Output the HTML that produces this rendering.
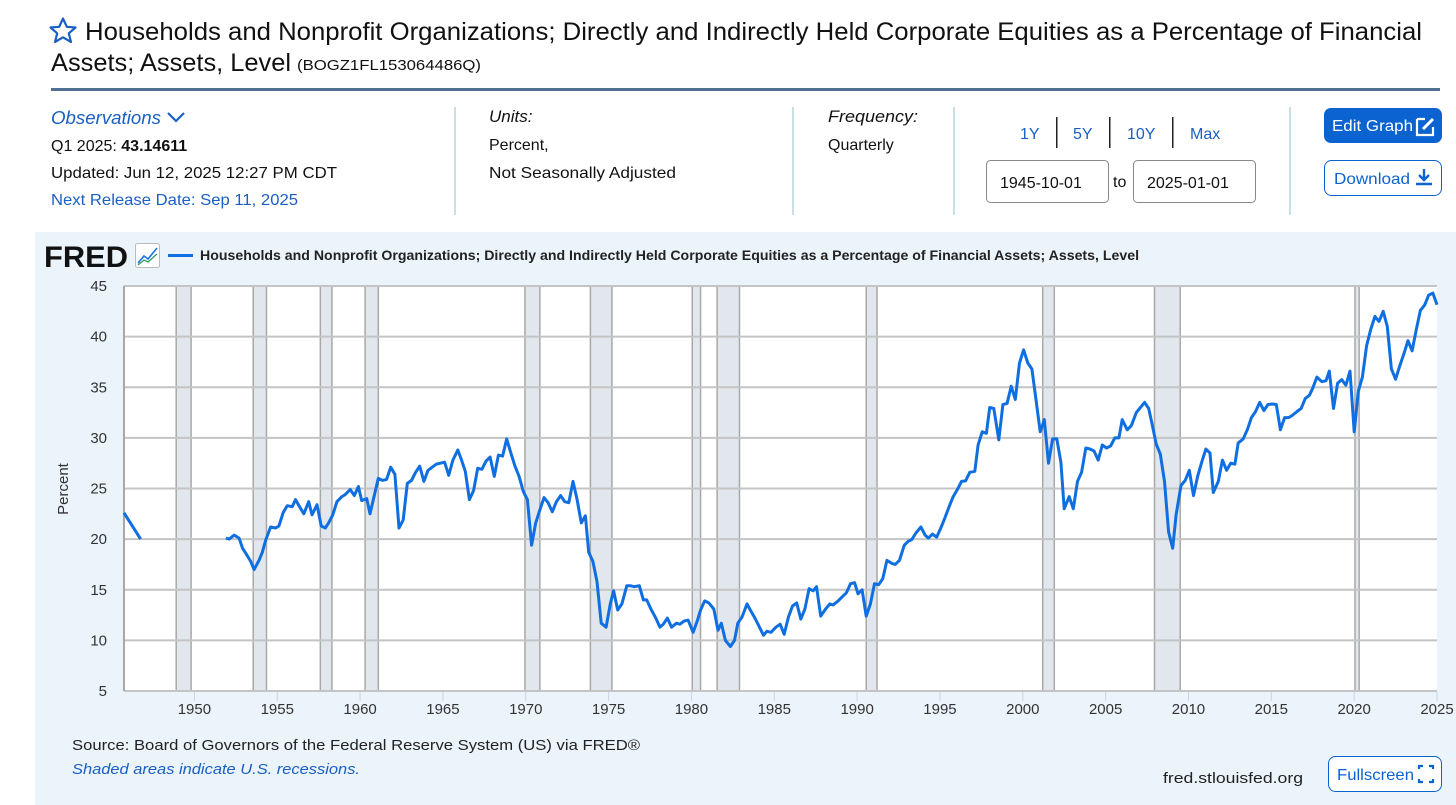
<!DOCTYPE html>
<html><head><meta charset="utf-8"><style>
html,body{margin:0;padding:0;background:#fff;width:1456px;height:805px;overflow:hidden}
svg{display:block;font-family:"Liberation Sans",sans-serif}
</style></head><body>
<svg id="page" width="1456" height="805" viewBox="0 0 1456 805" xmlns="http://www.w3.org/2000/svg">
<g>
<path d="M63,18.5 L66.8,26.8 L75.5,27.5 L68.8,33.3 L71,42 L63,37.3 L55,42 L57.2,33.3 L50.5,27.5 L59.2,26.8 Z" fill="none" stroke="#1a5fc4" stroke-width="2.2" stroke-linejoin="round"/>
<text x="85" y="40" font-size="25" fill="#111" textLength="1337" lengthAdjust="spacingAndGlyphs">Households and Nonprofit Organizations; Directly and Indirectly Held Corporate Equities as a Percentage of Financial</text>
<text x="51" y="71" font-size="25" fill="#111" textLength="240" lengthAdjust="spacingAndGlyphs">Assets; Assets, Level</text>
<text x="297" y="70" font-size="15" fill="#111" textLength="184" lengthAdjust="spacingAndGlyphs">(BOGZ1FL153064486Q)</text>
<rect x="51" y="88" width="1389" height="3" fill="#4f6f93"/>
<text x="51" y="124" font-size="18" font-style="italic" fill="#1a5fc4" textLength="110" lengthAdjust="spacingAndGlyphs">Observations</text>
<path d="M168,113 L176,121 L184,113" fill="none" stroke="#1a5fc4" stroke-width="2.2"/>
<text x="51" y="151" font-size="16" fill="#111">Q1 2025: <tspan font-weight="bold">43.14611</tspan></text>
<text x="51" y="178" font-size="16" fill="#111" textLength="286" lengthAdjust="spacingAndGlyphs">Updated: Jun 12, 2025 12:27 PM CDT</text>
<text x="51" y="205" font-size="16" fill="#1a5fc4" textLength="247" lengthAdjust="spacingAndGlyphs">Next Release Date: Sep 11, 2025</text>
<rect x="454" y="107" width="2" height="108" fill="#c8dfe6"/>
<rect x="792" y="107" width="2" height="108" fill="#c8dfe6"/>
<rect x="953" y="107" width="2" height="108" fill="#c8dfe6"/>
<rect x="1289" y="107" width="2" height="108" fill="#c8dfe6"/>
<text x="489" y="122" font-size="17" font-style="italic" fill="#111">Units:</text>
<text x="489" y="150" font-size="16" fill="#111">Percent,</text>
<text x="489" y="178" font-size="16" fill="#111" textLength="187" lengthAdjust="spacingAndGlyphs">Not Seasonally Adjusted</text>
<text x="828" y="122" font-size="17" font-style="italic" fill="#111" textLength="90" lengthAdjust="spacingAndGlyphs">Frequency:</text>
<text x="828" y="150" font-size="16" fill="#111">Quarterly</text>
<text x="1020" y="139" font-size="16" fill="#1a5fc4">1Y</text>
<rect x="1056" y="117" width="1.5" height="31" fill="#222"/>
<text x="1073" y="139" font-size="16" fill="#1a5fc4">5Y</text>
<rect x="1109" y="117" width="1.5" height="31" fill="#222"/>
<text x="1127" y="139" font-size="16" fill="#1a5fc4">10Y</text>
<rect x="1172" y="117" width="1.5" height="31" fill="#222"/>
<text x="1190" y="139" font-size="16" fill="#1a5fc4">Max</text>
<rect x="986.5" y="160.5" width="122" height="42" rx="4" fill="#fff" stroke="#888"/>
<text x="1000" y="188" font-size="16" fill="#111">1945-10-01</text>
<text x="1113" y="187" font-size="16" fill="#111">to</text>
<rect x="1133.5" y="160.5" width="122" height="42" rx="4" fill="#fff" stroke="#888"/>
<text x="1147" y="188" font-size="16" fill="#111">2025-01-01</text>
<g>
<rect x="1324" y="108" width="118" height="35" rx="7" fill="#0b63d1"/>
<text x="1332" y="131" font-size="16" fill="#fff" textLength="81" lengthAdjust="spacingAndGlyphs">Edit Graph</text>
<path d="M1417,119 h8 M1417,119 v16 h16 v-8" fill="none" stroke="#fff" stroke-width="2.2"/>
<path d="M1423,129 l10,-10" stroke="#fff" stroke-width="3"/>
</g>
<g>
<rect x="1324.5" y="160.5" width="117" height="35" rx="7" fill="#fff" stroke="#0b63d1"/>
<text x="1334" y="184" font-size="16" fill="#0b63d1" textLength="76" lengthAdjust="spacingAndGlyphs">Download</text>
<path d="M1424,169 v10 M1419,175 l5,5 l5,-5 M1416,184 h16" fill="none" stroke="#0b63d1" stroke-width="2.4"/>
</g>
</g>
<rect x="35" y="232" width="1421" height="573" fill="#ebf3fb"/>
<text x="44" y="267" font-size="30" font-weight="bold" fill="#111" textLength="84" lengthAdjust="spacingAndGlyphs">FRED</text>
<g>
<rect x="135.5" y="243.5" width="24" height="24" rx="2" fill="#fff" stroke="#bbb"/>
<path d="M138,263 l6,-7 l4,3 l9,-11" fill="none" stroke="#1a73e8" stroke-width="1.6"/>
<path d="M138,265 l6,-5 l4,2 l9,-8" fill="none" stroke="#2a9a5a" stroke-width="1.2"/>
</g>
<rect x="168" y="254" width="25" height="3" fill="#0f6fe0"/>
<text x="200" y="260" font-size="13.5" font-weight="bold" fill="#222" textLength="939" lengthAdjust="spacingAndGlyphs">Households and Nonprofit Organizations; Directly and Indirectly Held Corporate Equities as a Percentage of Financial Assets; Assets, Level</text>
<rect x="124" y="286" width="1313" height="405" fill="#fff"/>
<g id="recessions"></g>
<g id="grid"></g>
<g id="yticks"></g>
<g id="xticks"></g>
<text transform="translate(68,489) rotate(-90)" text-anchor="middle" font-size="15" fill="#333">Percent</text>
<path id="series" fill="none" stroke="#0f6fe0" stroke-width="3" stroke-linejoin="round"/>
<text x="72" y="750" font-size="15" fill="#222" textLength="568" lengthAdjust="spacingAndGlyphs">Source: Board of Governors of the Federal Reserve System (US) via FRED®</text>
<text x="72" y="774" font-size="15" font-style="italic" fill="#1a5fc4" textLength="288" lengthAdjust="spacingAndGlyphs">Shaded areas indicate U.S. recessions.</text>
<text x="1163" y="783" font-size="15" fill="#222" textLength="140" lengthAdjust="spacingAndGlyphs">fred.stlouisfed.org</text>
<g>
<rect x="1328.5" y="756.5" width="113" height="35" rx="7" fill="#fff" stroke="#0b63d1"/>
<text x="1337" y="780" font-size="16" fill="#0b63d1" textLength="77" lengthAdjust="spacingAndGlyphs">Fullscreen</text>
<path d="M1419,769 v-3 h4 M1429,766 h4 v3 M1433,779 v3 h-4 M1423,782 h-4 v-3" fill="none" stroke="#0b63d1" stroke-width="2.2"/>
</g>
</svg>
<script>
const dates = [1945.75,1946.75,null,1951.9,1952.1,1952.4,1952.7,1952.9,1953.1,1953.4,1953.6,1953.9,1954.1,1954.3,1954.6,1954.9,1955.1,1955.35,1955.6,1955.9,1956.1,1956.35,1956.6,1956.9,1957.1,1957.4,1957.65,1957.9,1958.1,1958.35,1958.6,1958.9,1959.1,1959.4,1959.65,1959.9,1960.1,1960.4,1960.6,1961.1,1961.35,1961.6,1961.85,1962.1,1962.35,1962.6,1962.85,1963.1,1963.35,1963.6,1963.85,1964.1,1964.35,1964.6,1964.85,1965.1,1965.35,1965.6,1965.9,1966.1,1966.35,1966.6,1966.85,1967.1,1967.35,1967.6,1967.85,1968.1,1968.35,1968.6,1968.85,1969.1,1969.35,1969.6,1969.85,1970.1,1970.35,1970.6,1970.85,1971.1,1971.35,1971.6,1971.85,1972.1,1972.35,1972.6,1972.85,1973.1,1973.35,1973.6,1973.8,1974.05,1974.3,1974.55,1974.85,1975.1,1975.3,1975.55,1975.8,1976.1,1976.3,1976.55,1976.85,1977.1,1977.3,1977.55,1977.85,1978.1,1978.3,1978.55,1978.8,1979.1,1979.3,1979.55,1979.8,1980.1,1980.35,1980.55,1980.8,1981.05,1981.35,1981.6,1981.8,1982.05,1982.35,1982.6,1982.8,1983.05,1983.35,1983.55,1983.8,1984.05,1984.35,1984.55,1984.8,1985.1,1985.35,1985.6,1985.85,1986.1,1986.35,1986.6,1986.85,1987.1,1987.35,1987.55,1987.8,1988.1,1988.35,1988.55,1988.85,1989.1,1989.35,1989.6,1989.85,1990.05,1990.3,1990.55,1990.8,1991.05,1991.3,1991.55,1991.8,1992.1,1992.3,1992.55,1992.85,1993.1,1993.3,1993.55,1993.85,1994.1,1994.3,1994.55,1994.8,1995.05,1995.3,1995.55,1995.8,1996.05,1996.3,1996.55,1996.8,1997.1,1997.3,1997.55,1997.8,1998.0,1998.25,1998.55,1998.8,1999.05,1999.3,1999.55,1999.8,2000.05,2000.3,2000.55,2000.8,2001.05,2001.3,2001.55,2001.8,2002.05,2002.3,2002.5,2002.8,2003.05,2003.3,2003.55,2003.8,2004.05,2004.3,2004.55,2004.8,2005.05,2005.3,2005.55,2005.8,2006.0,2006.3,2006.55,2006.85,2007.1,2007.35,2007.6,2007.8,2008.05,2008.3,2008.55,2008.8,2009.05,2009.25,2009.55,2009.8,2010.05,2010.3,2010.55,2010.8,2011.05,2011.3,2011.5,2011.8,2012.05,2012.3,2012.55,2012.8,2013.0,2013.3,2013.55,2013.8,2014.05,2014.3,2014.55,2014.8,2015.05,2015.3,2015.55,2015.8,2016.05,2016.25,2016.55,2016.8,2017.05,2017.3,2017.5,2017.75,2018.05,2018.3,2018.5,2018.75,2019.0,2019.25,2019.5,2019.75,2020.0,2020.25,2020.5,2020.75,2021.0,2021.25,2021.5,2021.75,2022.0,2022.25,2022.5,2022.75,2023.0,2023.25,2023.5,2023.75,2024.0,2024.25,2024.5,2024.75,2025.0];
const values = [22.6,20.0,null,20.1,20.0,20.4,20.1,19.1,18.6,17.8,17.0,17.9,18.7,19.9,21.2,21.1,21.3,22.6,23.3,23.2,23.9,23.2,22.5,23.7,22.4,23.4,21.3,21.1,21.6,22.4,23.7,24.2,24.4,24.9,24.3,25.2,23.8,24.0,22.5,26.0,25.8,25.9,27.1,26.4,21.1,21.9,25.5,25.8,26.6,27.2,25.7,26.8,27.1,27.4,27.5,27.6,26.3,27.8,28.8,27.9,26.7,23.9,24.8,27.0,26.9,27.7,28.1,26.2,28.3,28.2,29.9,28.5,27.2,26.2,24.7,23.9,19.4,21.6,22.9,24.1,23.6,22.7,23.7,24.3,23.7,23.6,25.7,23.9,21.6,22.3,18.7,17.8,15.8,11.7,11.3,13.6,14.9,13.0,13.6,15.4,15.4,15.3,15.4,14.0,14.0,13.1,12.2,11.3,11.6,12.2,11.3,11.7,11.6,11.9,12.0,10.8,11.9,13.0,13.9,13.7,13.1,11.0,11.7,10.0,9.4,10.0,11.7,12.3,13.6,13.0,12.3,11.5,10.5,10.9,10.8,11.3,11.6,10.6,12.3,13.4,13.7,12.1,13.1,15.1,14.9,15.3,12.4,13.1,13.6,13.5,13.9,14.3,14.7,15.6,15.7,14.6,15.0,12.4,13.6,15.6,15.5,16.1,17.9,17.6,17.5,17.9,19.4,19.8,19.95,20.6,21.2,20.4,20.1,20.5,20.2,21.1,22.1,23.2,24.2,24.9,25.7,25.75,26.6,26.7,29.3,30.6,30.45,33.0,32.9,29.8,33.3,33.4,35.1,33.8,37.4,38.7,37.4,36.8,33.7,30.6,31.8,27.5,29.9,29.9,27.6,23.0,24.2,23.0,25.7,26.6,29.0,28.9,28.7,27.8,29.3,29.0,29.2,30.0,30.0,31.8,30.8,31.2,32.5,33.0,33.5,32.9,31.4,29.4,28.4,25.7,20.7,19.1,22.4,25.3,25.8,26.8,24.3,26.2,27.6,28.9,28.5,24.6,25.7,27.8,26.8,27.5,27.4,29.5,29.9,30.8,32.0,32.6,33.5,32.7,33.3,33.35,33.3,30.8,32.0,32.0,32.2,32.6,32.9,33.9,34.2,34.9,36.0,35.55,35.65,36.6,32.9,35.4,35.75,35.2,36.6,30.6,34.6,36.0,39.1,40.7,42.0,41.5,42.5,41.0,36.8,35.8,37.1,38.3,39.6,38.6,40.7,42.6,43.1,44.1,44.3,43.15];
const recStart = [1948.9,1953.55,1957.6,1960.3,1969.95,1973.9,1980.05,1981.55,1990.55,2001.2,2007.95,2020.05];
const recEnd = [1949.8,1954.35,1958.3,1961.1,1970.85,1975.2,1980.55,1982.9,1991.2,2001.9,2009.5,2020.3];
const yTicks = [5,10,15,20,25,30,35,40,45];
const xTicks = [1950,1955,1960,1965,1970,1975,1980,1985,1990,1995,2000,2005,2010,2015,2020,2025];

const NS = 'http://www.w3.org/2000/svg';
const X0 = 124, X1 = 1437, Y0 = 286, Y1 = 691;
const T0 = 1945.75, T1 = 2025.0;
function xs(t){ return X0 + (t - T0) / (T1 - T0) * (X1 - X0); }
function ys(v){ return Y1 - (v - 5) / (45 - 5) * (Y1 - Y0); }
function mk(tag, attrs, parent){ const e = document.createElementNS(NS, tag); for (const k in attrs) e.setAttribute(k, attrs[k]); parent.appendChild(e); return e; }

const rg = document.getElementById('recessions');
recStart.forEach((s, i) => {
  const r = mk('rect', {x: xs(s), y: Y0, width: xs(recEnd[i]) - xs(s), height: Y1 - Y0, fill: '#e1e7ed', stroke: '#a8a8a8', 'stroke-width': 1.5}, rg);
  
  
});
const gg = document.getElementById('grid');
const yt = document.getElementById('yticks');
yTicks.forEach(v => {
  const l = mk('line', {x1: X0, x2: X1, y1: ys(v), y2: ys(v), stroke: '#c4c4c4', 'stroke-width': 2}, gg);
  
  
  const t = mk('text', {x: 107, y: ys(v) + 5, 'text-anchor': 'end', 'font-size': 15, fill: '#333'}, yt);
  t.textContent = v;
  
  
});
mk('line', {x1: X0, x2: X0, y1: Y0, y2: Y1, stroke: '#a8a8a8', 'stroke-width': 2}, gg);
const xt = document.getElementById('xticks');
xTicks.forEach(yr => {
  const tk = mk('line', {x1: xs(yr), x2: xs(yr), y1: Y1 + 1, y2: Y1 + 10, stroke: '#c8d6ea', 'stroke-width': 1}, xt);
  
  
  const t = mk('text', {x: xs(yr), y: 714, 'text-anchor': 'middle', 'font-size': 15, fill: '#333'}, xt);
  t.textContent = yr;
  
  
});
let d = '', pen = false;
dates.forEach((t, i) => {
  if (t === null || values[i] === null) { pen = false; return; }
  d += (pen ? 'L' : 'M') + xs(t).toFixed(1) + ',' + ys(values[i]).toFixed(1);
  pen = true;
});
document.getElementById('series').setAttribute('d', d);
</script>
</body></html>
